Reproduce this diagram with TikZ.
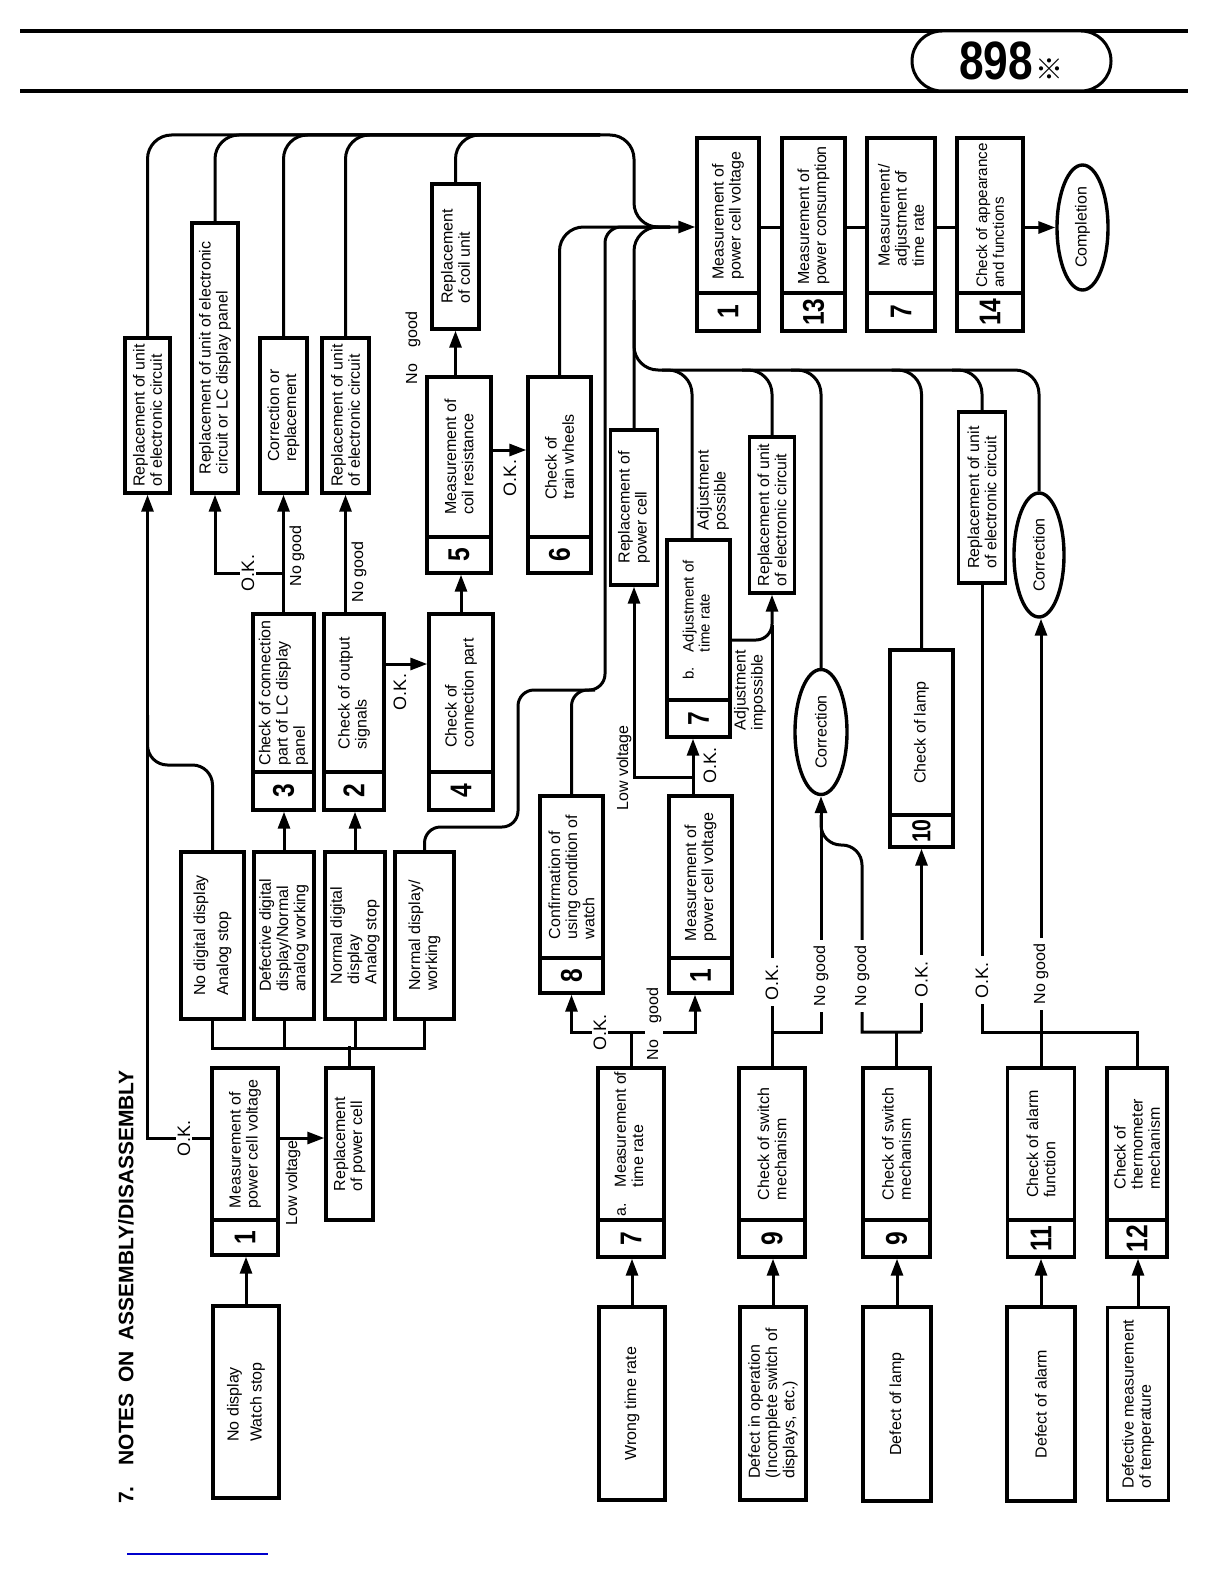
\documentclass[tikz,border=0pt]{standalone}
\usepackage{fontspec}
\setmainfont{Liberation Sans}
\newfontfamily\numfont[FakeStretch=0.82]{Liberation Sans Bold}
\newfontfamily\cjk{Noto Sans CJK JP}
\usetikzlibrary{arrows.meta, shapes.geometric}

\tikzset{
  every node/.style={font=\fontsize{8}{8.6}\selectfont},
  line/.style={line width=1.5pt},
  arr/.style={line, -{Triangle[length=8.5pt, width=6pt]}},
  box/.style 2 args={draw, line width=1.7pt, rotate=90, align=left,
    inner xsep=1.5pt, inner ysep=1pt,
    minimum width=#1*0.5pt, minimum height=#2*0.5pt},
  numcell/.style 2 args={box={#1}{#2}, align=center, inner sep=0pt,
    font=\numfont\fontsize{15}{15}\selectfont},
  oval/.style 2 args={draw, ellipse, line width=1.7pt, rotate=90, inner sep=0pt,
    minimum width=#1*0.5pt, minimum height=#2*0.5pt},
  lbl/.style={rotate=90, inner sep=1pt, align=left},
  gap/.style={lbl, fill=white, inner xsep=3pt},
  okfont/.style={font=\fontsize{9}{9}\selectfont},
}

\begin{document}
\begin{tikzpicture}[x=0.5pt, y=-0.5pt]
\useasboundingbox (0,0) rectangle (1224,1584);

% header
\draw[line width=1.6pt] (20,31) -- (1188,31);
\draw[line width=1.6pt] (20,91) -- (1188,91);
\node[draw, fill=white, line width=1.5pt, rounded corners=15pt, inner sep=0pt,
      minimum width=99.5pt, minimum height=30pt] (badge) at (1011.5,61)
  {{\numfont\fontsize{27}{27}\selectfont 898}\hspace{1.5pt}{\cjk\fontsize{14}{14}\selectfont ※}};
\node[rotate=90, font=\fontsize{10.5}{10.5}\selectfont\bfseries] (title) at (126,1287)
  {7.\quad NOTES\enspace ON\enspace ASSEMBLY/DISASSEMBLY};

% left branch
\node[box={192}{66}] (nd0) at (246,1402) {No display\\[3pt]Watch stop};
\node[box={152}{66}] (m1) at (245,1144) {Measurement of\\power cell voltage};
\node[numcell={35}{66}] (m1n) at (245,1237.5) {1};
\node[box={152}{47}] (rpc) at (349.5,1144) {Replacement\\of power cell};
\node[box={167}{63}] (c1) at (212.5,935.5) {No digital display\\[3pt]Analog stop};
\node[box={167}{60}] (c2) at (284,935.5) {Defective digital\\display/Normal\\analog working};
\node[box={167}{60}] (c3) at (355,935.5) {Normal digital\\display\\Analog stop};
\node[box={167}{59}] (c4) at (424.5,935.5) {Normal display/\\working};
\node[box={158}{61}] (k3) at (283.5,693) {Check of connection\\part of LC display\\panel};
\node[numcell={38}{61}] (k3n) at (283.5,791) {3};
\node[box={158}{60}] (k2) at (354,693) {Check of output\\signals};
\node[numcell={38}{60}] (k2n) at (354,791) {2};
\node[box={158}{64}] (k4) at (461,693) {Check of\\connection part};
\node[numcell={38}{64}] (k4n) at (461,791) {4};
\node[box={155}{45}] (rep1) at (147.5,415.5) {Replacement of unit\\of electronic circuit};
\node[box={270}{46}] (rep2) at (215,358) {Replacement of unit of electronic\\circuit or LC display panel};
\node[box={155}{47}] (rep3) at (283.5,415.5) {Correction or\\replacement};
\node[box={155}{47}] (rep4) at (345.5,415.5) {Replacement of unit\\of electronic circuit};
\node[box={160}{64}] (b5) at (459,457) {Measurement of\\coil resistance};
\node[numcell={36}{64}] (b5n) at (459,555) {5};
\node[box={145}{47}] (coil) at (455.5,256.5) {Replacement\\of coil unit};
\node[box={160}{63}] (b6) at (559.5,457) {Check of\\train wheels};
\node[numcell={36}{63}] (b6n) at (559.5,555) {6};

% middle branch
\node[box={155}{47}] (rpcR) at (634,507.5) {Replacement of\\power cell};
\node[box={160}{63}, font=\fontsize{7.5}{8}\selectfont] (b7b) at (698.5,620)
  {b.\quad\begin{tabular}[t]{@{}l@{}}Adjustment of\\time rate\end{tabular}};
\node[numcell={37}{63}] (b7bn) at (698.5,718.5) {7};
\node[box={156}{45}] (repM) at (772,515) {Replacement of unit\\of electronic circuit};
\node[oval={125}{52}] (corr1) at (821,732) {Correction};
\node[box={162}{63}] (b8) at (571.5,877) {Confirmation of\\using condition of\\watch};
\node[numcell={35}{63}] (b8n) at (571.5,975.5) {8};
\node[box={162}{63}] (m1b) at (700.5,877) {Measurement of\\power cell voltage};
\node[numcell={35}{63}] (m1bn) at (700.5,975.5) {1};
\node[box={152}{66}] (b7a) at (631,1144)
  {a.\quad\begin{tabular}[t]{@{}l@{}}Measurement of\\time rate\end{tabular}};
\node[numcell={37}{66}] (b7an) at (631,1238.5) {7};
\node[box={193}{66}] (wrong) at (632,1403.5) {Wrong time rate};
\node[box={152}{66}] (cs1) at (772,1144) {Check of switch\\mechanism};
\node[numcell={37}{66}] (cs1n) at (772,1238.5) {9};
\node[box={193}{66}] (defop) at (773,1403.5) {Defect in operation\\(Incomplete switch of\\displays, etc.)};

% right branch
\node[box={152}{67}] (cs2) at (896.5,1144) {Check of switch\\mechanism};
\node[numcell={37}{67}] (cs2n) at (896.5,1238.5) {9};
\node[box={194}{68}] (dlamp) at (897,1404) {Defect of lamp};
\node[box={165}{63}] (lamp) at (921.5,732.5) {Check of lamp};
\node[numcell={32}{63}, font=\numfont\fontsize{13}{13}\selectfont] (lampn) at (921.5,831) {10};
\node[box={171}{47}] (repR) at (982,497.5) {Replacement of unit\\of electronic circuit};
\node[oval={124}{50}] (corr2) at (1039,555) {Correction};
\node[box={152}{67}] (al) at (1041,1144) {Check of alarm\\function};
\node[numcell={37}{67}] (aln) at (1041,1238.5) {11};
\node[box={194}{68}] (dal) at (1041,1404) {Defect of alarm};
\node[box={152}{60}] (th) at (1137,1144) {Check of\\thermometer\\mechanism};
\node[numcell={37}{60}] (thn) at (1137,1238.5) {12};
\node[box={193}{61}] (dtemp) at (1138,1404) {Defective measurement\\of temperature};

% final row
\node[box={155}{62}] (f1) at (728,215.5) {Measurement of\\power cell voltage};
\node[numcell={38}{62}] (f1n) at (728,312) {1};
\node[box={155}{63}] (f13) at (813.5,215.5) {Measurement of\\power consumption};
\node[numcell={38}{63}] (f13n) at (813.5,312) {13};
\node[box={155}{68}] (f7) at (901,215.5) {Measurement/\\adjustment of\\time rate};
\node[numcell={38}{68}] (f7n) at (901,312) {7};
\node[box={155}{66}, font=\fontsize{7.6}{8.4}\selectfont] (f14) at (990,215.5) {Check of appearance\\and functions};
\node[numcell={38}{66}] (f14n) at (990,312) {14};
\node[oval={125}{51}] (done) at (1082.5,227.5) {Completion};
\coordinate (fin) at (f1.north |- 0,227);

% connectors, left
\draw[arr] (nd0.east) -- (nd0.east |- m1n.west);
\draw[arr] (m1.north |- 0,1138) -| (rep1.west);
\draw[arr] (m1.south |- 0,1138) -- (rpc.north |- 0,1138);
\draw[line] (rpc.east) -- ++(0,-20);
\draw[line] (c1.west) |- (c4.west |- 0,1048) -- (c4.west);
\draw[line] (c2.west) -- ++(0,29);
\draw[line] (c3.west) -- ++(0,29);
\draw[line, rounded corners=10pt] (c1.east) |- (147.5,765) -- (147.5,715);
\draw[arr] (c2.east) -- (c2.east |- k3n.west);
\draw[arr] (c3.east) -- (c3.east |- k2n.west);
\draw[arr] (k3.east) -- (k3.east |- rep3.west);
\draw[arr] (k3.east |- 0,573) -| (rep2.west);
\draw[arr] (rep4.west |- k2.east) -- (rep4.west);
\draw[arr] (k2.south |- 0,664) -- (k4.north |- 0,664);
\draw[arr] (k4.east) -- (k4.east |- b5n.west);
\draw[arr] (coil.west |- b5.east) -- (coil.west);
\draw[arr] (b5.south |- 0,450) -- (b6.north |- 0,450);

% top bus and merges
\draw[arr, rounded corners=12pt] (rep1.east) |- (634,135) |- (fin);
\foreach \n in {rep2, rep3, rep4, coil}
  \draw[line, rounded corners=12pt] (\n.east) |- (600,135);
\draw[line, rounded corners=12pt] (b6.east) |- (670,227);
\draw[line, rounded corners=12pt] (rpcR.east) |- (670,227);
\draw[line, rounded corners=8pt] (b8.east) |- (605,690) |- (670,227);
\draw[line, rounded corners=8pt] (c4.east) |- (518,827) |- (595,690);
\draw[line, rounded corners=12pt] (corr2.east) |- (634,370) -- (634,300);
\foreach \n/\x in {b7b/692, repM/772, corr1/821, lamp/921.5, repR/982}
  \draw[line, rounded corners=12pt] (\x,0 |- \n.east) |- (\x-30,370);

% connectors, middle
\draw[arr] (b7a.east) |- (b8n.west |- 0,1032) -- (b8n.west);
\draw[arr] (b7a.east |- 0,1032) -| (695,0 |- m1bn.west);
\draw[arr] (693,0 |- m1b.east) -- (693,0 |- b7bn.west);
\draw[arr] (693,777) -| (rpcR.west);
\draw[arr, rounded corners=8pt] (b7b.south |- 0,640) -| (repM.west);
\draw[line] (cs1.east) -- (cs1.east |- 0,625);
\draw[arr] (cs1.east |- 0,1032) -| (corr1.west);
\draw[arr] (wrong.east) -- (wrong.east |- b7an.west);
\draw[arr] (defop.east) -- (defop.east |- cs1n.west);

% connectors, right
\draw[line] (cs2.east) -- (cs2.east |- 0,1032);
\draw[arr] (lampn.west |- 0,1032) -- (lampn.west);
\draw[line] (lampn.west |- 0,1032) -| (862,900) [rounded corners=10pt] |- (821,845) -- (821,815);
\draw[line] (th.east) |- (repR.west |- 0,1032) -- (repR.west);
\draw[arr] (al.east) -- (al.east |- corr2.west);
\draw[arr] (dlamp.east) -- (dlamp.east |- cs2n.west);
\draw[arr] (dal.east) -- (dal.east |- aln.west);
\draw[arr] (dtemp.east) -- (dtemp.east |- thn.west);

% final row
\draw[line] (f1.south |- fin) -- (f13.north |- fin);
\draw[line] (f13.south |- fin) -- (f7.north |- fin);
\draw[line] (f7.south |- fin) -- (f14.north |- fin);
\draw[arr] (f14.south |- done) -- (done);

% labels
\node[gap, okfont] (okA) at (184,1138) {O.K.};
\node[lbl] (lowA) at (293,1183) {Low voltage};
\node[gap, okfont] (okB) at (248,573) {O.K.};
\node[lbl] (ngB) at (297,556) {No good};
\node[lbl] (ngC) at (359,572) {No good};
\node[lbl, okfont] (okC) at (400,692) {O.K.};
\node[lbl] (ngD) at (413,348) {No\quad good};
\node[lbl, okfont] (okD) at (510,478) {O.K.};
\node[lbl] (adjP) at (713,490) {Adjustment\\possible};
\node[lbl] (adjI) at (750,690) {Adjustment\\impossible};
\node[lbl] (lowB) at (624,768) {Low voltage};
\node[lbl, okfont] (okE) at (710,765) {O.K.};
\node[gap, okfont] (okF) at (600,1032) {O.K.};
\node[gap] (ngF) at (654,1024) {No\quad good};
\node[gap, okfont] (okG) at (772,982) {O.K.};
\node[gap] (ngG) at (821,976) {No good};
\node[gap] (ngH) at (862,976) {No good};
\node[gap, okfont] (okH) at (921.5,979) {O.K.};
\node[gap, okfont] (okI) at (982,980) {O.K.};
\node[gap] (ngI) at (1041,974) {No good};

\draw[blue!80!black, line width=0.6pt] (127,1554) -- (268,1554);
\end{tikzpicture}
\end{document}
